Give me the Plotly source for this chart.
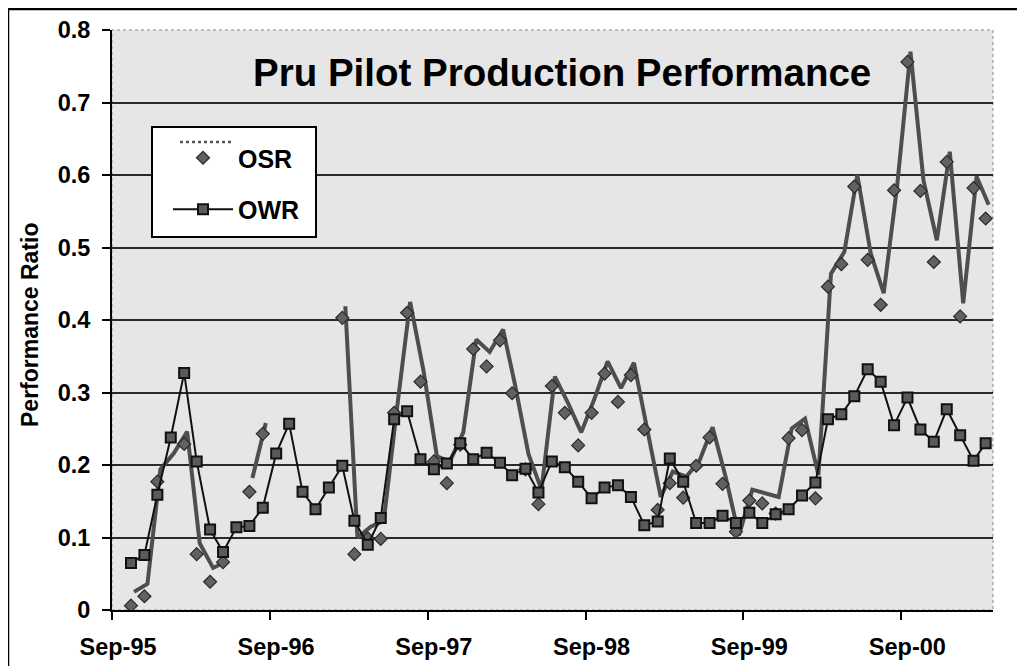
import pandas as pd
import plotly.graph_objects as go

# ---------------- data (monthly, Oct-95 .. Mar-01) ----------------
start_month = "1995-10-01"
n_months = 66

owr = [0.065, 0.076, 0.159, 0.238, 0.327, 0.205, 0.111, 0.080, 0.114, 0.116,
       0.141, 0.216, 0.257, 0.163, 0.139, 0.169, 0.199, 0.123, 0.090, 0.127,
       0.263, 0.274, 0.208, 0.194, 0.202, 0.230, 0.208, 0.217, 0.203, 0.186,
       0.195, 0.162, 0.205, 0.197, 0.177, 0.154, 0.169, 0.172, 0.156, 0.117,
       0.122, 0.209, 0.177, 0.120, 0.120, 0.130, 0.120, 0.134, 0.120, 0.132,
       0.139, 0.158, 0.176, 0.263, 0.270, 0.295, 0.332, 0.315, 0.255, 0.293,
       0.249, 0.232, 0.277, 0.241, 0.206, 0.230]

osr_points = [0.006, 0.019, 0.177, None, 0.229, 0.077, 0.039, 0.066, None, 0.163,
              0.243, None, None, None, None, None, 0.403, 0.077, 0.099, 0.098,
              0.272, 0.410, 0.315, 0.205, 0.175, 0.228, 0.360, 0.336, 0.372, 0.299,
              0.194, 0.146, 0.309, 0.272, 0.227, 0.272, 0.326, 0.287, 0.324, 0.249,
              0.138, 0.175, 0.155, 0.199, 0.238, 0.174, 0.108, 0.151, 0.147, 0.133,
              0.237, 0.248, 0.154, 0.446, 0.477, 0.584, 0.483, 0.421, 0.579, 0.756,
              0.578, 0.480, 0.618, 0.405, 0.582, 0.540]

osr_line = [0.025, 0.036, 0.194, 0.216, 0.246, 0.092, 0.058, 0.067, None, 0.182,
            0.258, None, None, None, None, None, 0.419, 0.100, 0.115, 0.123,
            0.280, 0.425, 0.330, 0.212, 0.205, 0.245, 0.373, 0.356, 0.387, 0.310,
            0.215, 0.166, 0.322, 0.286, 0.245, 0.292, 0.343, 0.306, 0.341, 0.248,
            0.156, 0.191, 0.184, 0.205, 0.252, 0.184, 0.103, 0.166, 0.161, 0.156,
            0.250, 0.264, 0.186, 0.464, 0.494, 0.600, 0.492, 0.437, 0.584, 0.770,
            0.593, 0.510, 0.632, 0.423, 0.598, 0.559]

y_ticks = [0, 0.1, 0.2, 0.3, 0.4, 0.5, 0.6, 0.7, 0.8]
grid_vals = [0.1, 0.2, 0.3, 0.4, 0.5, 0.6, 0.7]
x_tick_dates = ["1995-09-01", "1996-09-01", "1997-09-01",
                "1998-09-01", "1999-09-01", "2000-09-01"]
x_tick_labels = ["Sep-95", "Sep-96", "Sep-97", "Sep-98", "Sep-99", "Sep-00"]

title_text = "Pru Pilot Production Performance"
y_title = "Performance Ratio"

# ---------------- build ----------------
months = pd.date_range(start_month, periods=n_months, freq="MS")
x_pts = months + pd.Timedelta(days=14)
x_ln = months + pd.Timedelta(days=21)

FONT = "Liberation Sans, Arial, sans-serif"

fig = go.Figure()

fig.add_trace(go.Scatter(
    x=x_ln, y=osr_line, mode="lines", name="OSR line", showlegend=False,
    yaxis="y", line=dict(color="#4e4e4e", width=4), connectgaps=False,
    hoverinfo="skip"))

fig.add_trace(go.Scatter(
    x=x_pts, y=osr_points, mode="markers", name="OSR", legendgroup="osr",
    yaxis="y2",
    marker=dict(symbol="diamond", size=10, color="#616161",
                line=dict(color="#2a2a2a", width=1.2))))

fig.add_trace(go.Scatter(
    x=x_pts, y=owr, mode="lines+markers", name="OWR", legendgroup="owr",
    yaxis="y2",
    line=dict(color="#111111", width=2),
    marker=dict(symbol="square", size=10, color="#5a5a5a",
                line=dict(color="#111111", width=2))))

# page has an 8px body margin; plot area spans page x 112..993, y 30..610
PAGE_OFF = 8
PL, PR, PT, PB = 112, 993, 30, 610
W, H = 1017, 658
L = PL - PAGE_OFF
T = PT - PAGE_OFF
R = W - (PR - PAGE_OFF)
B = H - (PB - PAGE_OFF)
pw, ph = PR - PL, PB - PT


def px(xp):
    return (xp - PL) / pw


def py(yp):
    return (PB - yp) / ph


shapes = [
    # figure border
    dict(type="rect", xref="paper", yref="paper",
         x0=px(8), x1=px(1040), y0=py(690), y1=py(9),
         line=dict(color="black", width=2.5), fillcolor="rgba(0,0,0,0)", layer="below"),
    # plot area border (dotted)
    dict(type="rect", xref="paper", yref="paper", x0=0, x1=1, y0=0, y1=1,
         line=dict(color="#8a8a8a", width=1, dash="dot"), layer="below"),
    # legend box
    dict(type="rect", xref="paper", yref="paper",
         x0=px(152), x1=px(316), y0=py(237), y1=py(127),
         line=dict(color="black", width=2), fillcolor="white", layer="above"),
    # OSR line sample in legend
    dict(type="line", xref="paper", yref="paper",
         x0=px(180), x1=px(232), y0=py(142), y1=py(142),
         line=dict(color="#555555", width=2.5, dash="dot"), layer="above"),
]

tick_font = dict(family=FONT, size=23.5, weight="bold", color="black")

fig.update_layout(
    width=W, height=H,
    margin=dict(l=L, r=R, t=T, b=B, pad=0, autoexpand=False),
    paper_bgcolor="white",
    plot_bgcolor="#e6e6e6",
    font=dict(family=FONT, color="black"),
    showlegend=True,
    legend=dict(x=px(168), y=py(135), xanchor="left", yanchor="top",
                bgcolor="rgba(0,0,0,0)", borderwidth=0,
                font=dict(family=FONT, size=25, weight="bold", color="black"),
                traceorder="grouped", tracegroupgap=16, itemwidth=60),
    xaxis=dict(
        type="date", range=["1995-09-01", "2001-04-01"],
        tickvals=x_tick_dates, ticktext=x_tick_labels,
        ticks="outside", ticklen=8, tickwidth=2, tickcolor="black",
        showline=True, linecolor="black", linewidth=2,
        showgrid=False, zeroline=False, automargin=False,
        tickfont=tick_font, ticklabelstandoff=7, ticklabelshift=6),
    yaxis=dict(
        range=[0, 0.8], tickvals=grid_vals, automargin=False,
        showgrid=True, gridcolor="#2a2a2a", gridwidth=2,
        showticklabels=False, ticks="", showline=False, zeroline=False),
    yaxis2=dict(
        overlaying="y", side="left", anchor="x", automargin=False,
        range=[0, 0.8], tickvals=y_ticks, ticktext=[f"{v:g}" for v in y_ticks],
        ticks="outside", ticklen=8, tickwidth=2, tickcolor="black",
        showline=True, linecolor="black", linewidth=2,
        showgrid=False, zeroline=False,
        tickfont=tick_font, ticklabelstandoff=7),
    shapes=shapes,
    annotations=[
        dict(text=title_text, xref="paper", yref="paper", x=px(562), y=py(72),
             xanchor="center", yanchor="middle", showarrow=False,
             font=dict(family=FONT, size=38.5, weight="bold", color="black")),
        dict(text=y_title, xref="paper", yref="paper", x=px(30), y=py(325),
             xanchor="center", yanchor="middle", showarrow=False, textangle=-90,
             font=dict(family=FONT, size=23, weight="bold", color="black")),
    ],
)

fig.write_html("out.html")
